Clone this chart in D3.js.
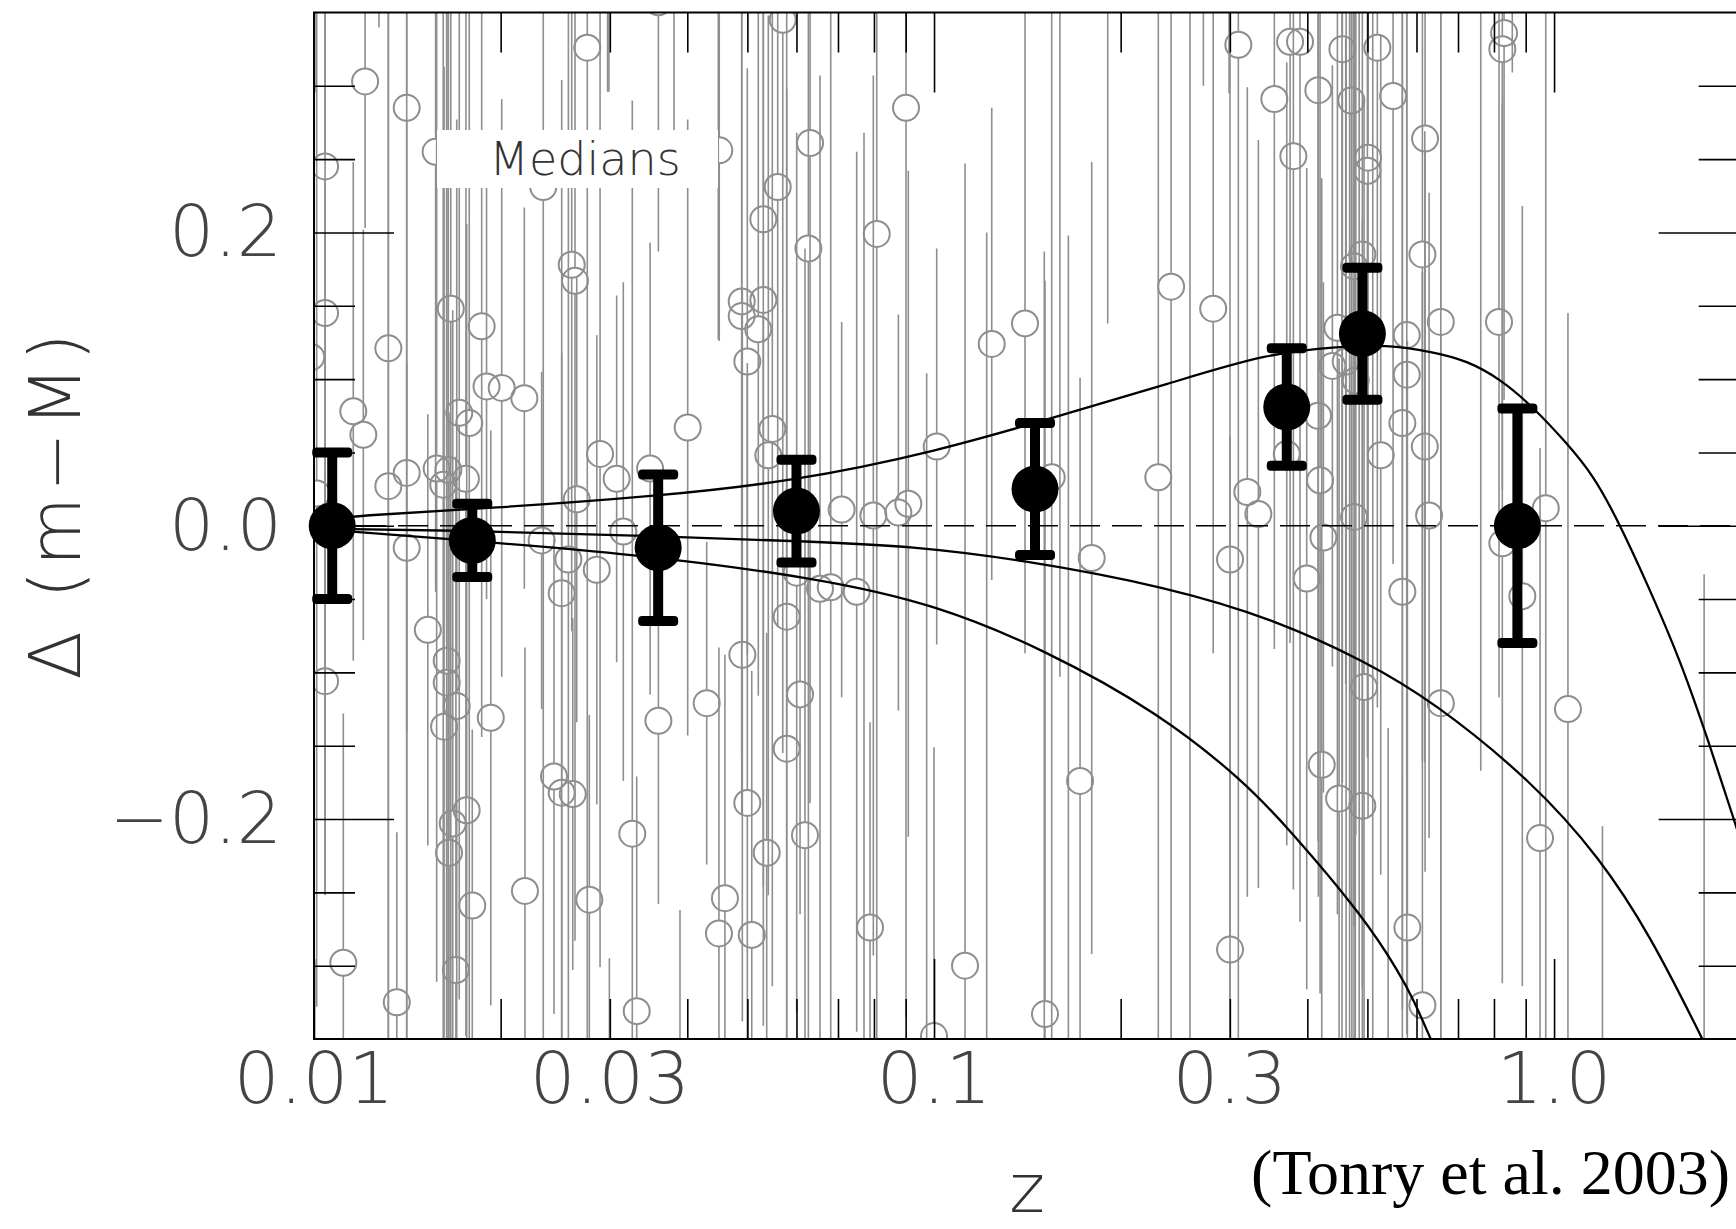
<!DOCTYPE html>
<html><head><meta charset="utf-8">
<script src="https://cdn.jsdelivr.net/npm/d3@7"></script>
<style>
html,body{margin:0;padding:0;background:#fff;}
svg{display:block;}
</style></head><body>
<svg id="c" width="1736" height="1229"></svg>
<script>
// ---------- individual supernovae (z, Delta(m-M), error) ----------
const snZ = [0.01042,0.01209,0.01411,0.02759,0.03593,0.05702,0.0631,0.05596,0.05305,0.06271,0.02604,0.02636,0.01662,0.01864,0.01318,0.04896,0.05305,0.04896,0.05207,0.04999,0.01898,0.02008,0.02184,0.01157,0.01201,0.01715,0.0178,0.04006,0.05485,0.02893,0.05404,0.01411,0.01318,0.01577,0.01647,0.01616,0.01758,0.03077,0.03484,0.02653,0.02343,0.01571,0.04504,0.01042,0.0099,0.0101,
0.01411,0.02329,0.02572,0.02858,0.02509,0.03154,0.01526,0.01637,0.01637,0.01699,0.01621,0.01928,0.01042,0.04907,0.04299,0.03593,0.05786,0.0608,0.05786,0.06005,0.06548,0.02438,0.02509,0.02614,0.01763,0.01674,0.01651,0.03261,0.04999,0.06193,0.05372,0.02189,0.0278,0.018,0.046,0.04499,0.05082,0.01115,0.01694,0.0136,0.03315,
0.09012,0.08084,0.1239,0.1402,0.2412,0.282,0.3096,0.3752,0.3893,0.3539,0.4167,0.3798,0.101,0.1548,0.230,0.3201,0.3335,0.4163,0.3706,0.4194,0.07096,0.07982,0.09089,0.0876,
0.06814,0.07503,0.1796,0.3002,0.3991,0.4246,0.172,0.422,0.4501,0.07885,0.3002,0.151,0.1,
0.4556,0.5188,0.8306,0.8252,0.471,0.550,0.6194,0.5012,0.500,0.4907,0.4758,0.6133,0.4473,0.5787,0.6567,0.8152,0.439,0.4613,0.4788,0.5787,0.5693,0.5254,0.6188,0.4758,0.6287,0.9696,
0.5693,0.8252,0.8888,0.4938,0.6567,1.053,0.4907,0.9493,0.580,0.6133,
0.01273,0.02975,0.0299,0.03807,0.02995,0.03893,0.04488,0.1906,0.2991,0.1506,0.1596,0.7617,0.8564,1.197,1.746,0.540,0.455,0.462,0.468,0.472,0.478,0.485,0.510,0.0771,0.0973,0.1122,0.1216,0.1647,0.2587,0.2719];
const snD = [0.245,0.303,0.285,0.326,0.357,0.345,0.261,0.231,0.209,0.189,0.178,0.167,0.148,0.136,0.121,0.153,0.154,0.143,0.134,0.112,0.095,0.094,0.087,0.078,0.062,0.077,0.070,0.067,0.066,0.049,0.048,0.036,0.027,0.039,0.038,0.028,0.032,0.032,0.039,0.018,0.231,0.255,0.256,0.145,0.115,0.022,
-0.015,-0.010,-0.023,-0.030,-0.046,-0.004,-0.071,-0.092,-0.107,-0.123,-0.137,-0.131,-0.106,-0.088,-0.121,-0.133,-0.062,-0.115,-0.152,-0.032,-0.043,-0.171,-0.182,-0.183,-0.194,-0.203,-0.223,-0.210,-0.189,-0.211,-0.223,-0.249,-0.255,-0.259,-0.254,-0.278,-0.279,-0.298,-0.303,-0.325,-0.331,
0.285,0.199,0.124,0.138,0.163,0.148,0.328,0.330,0.330,0.291,0.297,0.252,0.054,0.033,0.033,0.023,0.008,0.075,0.049,0.031,0.011,0.007,0.015,0.009,
-0.042,-0.045,-0.022,-0.023,-0.036,-0.008,-0.174,-0.163,-0.186,-0.274,-0.289,-0.333,-0.348,
0.325,0.326,0.336,0.325,0.290,0.293,0.264,0.251,0.242,0.185,0.177,0.185,0.135,0.130,0.139,0.139,0.109,0.112,0.099,0.103,0.070,0.048,0.054,0.006,0.007,0.012,
-0.045,-0.012,-0.048,-0.110,-0.121,-0.125,-0.191,-0.213,-0.274,-0.327,
0.60,0.55,0.56,0.60,-0.50,-0.55,0.50,0.55,0.60,-0.50,0.45,0.45,0.60,-0.50,-0.50,-0.45,0.50,-0.50,0.60,-0.60,0.45,-0.45,0.50,-0.40,-0.45,-0.30,-0.42,-0.40,0.50,0.60];
const snE = [0.496,0.10,0.65,0.68,0.17,0.50,0.45,0.30,0.55,0.55,0.25,0.45,0.50,0.28,0.50,0.35,0.40,0.30,0.25,0.20,0.145,0.197,0.13,0.17,0.14,0.40,0.45,0.21,0.38,0.35,0.30,0.40,0.45,0.35,0.40,0.50,0.38,0.125,0.154,0.152,0.60,0.30,0.13,0.30,0.30,0.35,
0.126,0.115,0.40,0.16,0.35,0.17,0.147,0.45,0.50,0.40,0.45,0.196,0.146,0.25,0.11,0.125,0.50,0.15,0.45,0.30,0.35,0.162,0.30,0.12,0.40,0.35,0.30,0.50,0.30,0.40,0.15,0.166,0.126,0.12,0.166,0.195,0.18,0.17,0.35,0.116,0.16,
0.62,0.60,0.161,0.225,0.55,0.235,0.70,0.41,0.60,0.375,0.55,0.50,0.135,0.45,0.45,0.276,0.255,0.29,0.267,0.35,0.128,0.30,0.227,0.135,
0.50,0.30,0.27,0.50,0.28,0.174,0.275,0.40,0.30,0.14,0.35,0.50,0.197,
0.50,0.45,0.25,0.30,0.55,0.319,0.50,0.45,0.40,0.50,0.45,0.346,0.40,0.30,0.55,0.256,0.205,0.22,0.31,0.45,0.40,0.286,0.215,0.50,0.22,0.40,
0.50,0.30,0.266,0.40,0.50,0.27,0.40,0.266,0.40,0.50,
0.26,0.254,0.264,0.35,0.205,0.288,0.373,0.412,0.305,0.687,0.553,0.617,0.291,0.295,0.467,0.312,0.90,0.90,1.00,1.00,0.85,0.85,0.90,0.668,0.554,0.547,0.62,0.598,0.90,0.30];

// ---------- medians ----------
const medZ = [0.0107,0.0180,0.0359,0.0600,0.1455,0.3706,0.4908,0.8727];
const medD = [0.000,-0.010,-0.015,0.010,0.025,0.081,0.131,0.000];
const medE = [0.050,0.025,0.050,0.035,0.045,0.040,0.045,0.080];

// ---------- model curves ----------
const upperZ = [0.01,0.01157,0.01946,0.03548,0.05895,0.1010,0.1577,0.2403,0.344,0.4529,0.534,0.638,0.723,0.818,0.925,1.048,1.156,1.262,1.414,1.603,1.772,1.966,2.0];
const upperD = [0.003,0.007,0.012,0.020,0.030,0.0505,0.0744,0.0971,0.1176,0.1221,0.1235,0.1186,0.1126,0.1003,0.081,0.0564,0.0346,0.0053,-0.0396,-0.0930,-0.1462,-0.2048,-0.215];
const middleZ = [0.01,0.01637,0.03273,0.066,0.0915,0.136,0.2403,0.357,0.4939,0.638,0.925,1.187,1.428,1.72,1.785];
const middleD = [-0.002,-0.003,-0.0065,-0.011,-0.014,-0.0225,-0.042,-0.0645,-0.092,-0.1196,-0.1748,-0.2267,-0.279,-0.3467,-0.361];
const lowerZ = [0.01,0.01637,0.03273,0.066,0.101,0.1501,0.2315,0.3155,0.3716,0.4939,0.5645,0.5946,0.6326,0.64];
const lowerD = [-0.002,-0.009,-0.019,-0.036,-0.054,-0.084,-0.128,-0.174,-0.2055,-0.267,-0.3057,-0.324,-0.350,-0.355];

// ---------- axes ----------
const xTickVals = [0.01,0.03,0.1,0.3,1.0];
const xTickLabels = ["0.01","0.03","0.1","0.3","1.0"];
const yTickVals = [0.2,0.0,-0.2];
const yTickLabels = ["0.2","0.0","\u22120.2"];
const xMajor = [0.01,0.1,1];
const xMinor = [0.02,0.03,0.04,0.05,0.06,0.07,0.08,0.09,0.2,0.3,0.4,0.5,0.6,0.7,0.8,0.9,2];
const yMajor = [-0.2,0,0.2];
const yMinor = [-0.3,-0.25,-0.15,-0.1,-0.05,0.05,0.1,0.15,0.25,0.3];

const xLabel = "z";
const yLabel = "\u0394 (m\u2212M)";
const legendText = "Medians";
const sourceText = "(Tonry et al. 2003)";

// ---------- layout ----------
const L = 314, R = 1740.7, T = 12.5, B = 1039;
const x = d3.scaleLog().domain([0.01, 2]).range([L, R]);
const y = d3.scaleLinear().domain([-0.35, 0.35]).range([B, T]);
const svg = d3.select("#c");
svg.append("rect").attr("width",1736).attr("height",1229).attr("fill","#fff");

svg.append("clipPath").attr("id","plot").append("rect")
  .attr("x",L).attr("y",T).attr("width",R-L).attr("height",B-T);

const gray = "#8e8e8e";
const rC = 13;
const pts = snZ.map((z,i)=>({z, d:snD[i], e:snE[i]}));
const g = svg.append("g").attr("clip-path","url(#plot)");

// error bars (split around the open circle)
const gb = g.append("g").attr("stroke",gray).attr("stroke-width",1.6).attr("fill","none");
pts.forEach(p=>{
  const cx = x(p.z), cy = y(p.d), top = y(p.d+p.e), bot = y(p.d-p.e);
  if (top < cy - rC) gb.append("line").attr("x1",cx).attr("x2",cx).attr("y1",top).attr("y2",cy-rC);
  if (bot > cy + rC) gb.append("line").attr("x1",cx).attr("x2",cx).attr("y1",cy+rC).attr("y2",bot);
});
g.append("g").selectAll("circle").data(pts).join("circle")
  .attr("cx",p=>x(p.z)).attr("cy",p=>y(p.d)).attr("r",rC)
  .attr("fill","none").attr("stroke",gray).attr("stroke-width",2);

// legend box "Medians"
svg.append("rect").attr("x",437).attr("y",130).attr("width",281).attr("height",58).attr("fill","#fff");
svg.append("text").attr("x",585).attr("y",175).attr("text-anchor","middle")
  .attr("font-family","'DejaVu Sans', sans-serif").attr("font-weight",200)
  .attr("font-size",46).attr("fill","#333").text(legendText);

// dashed zero line
g.append("line").attr("x1",L).attr("x2",R).attr("y1",y(0)).attr("y2",y(0))
  .attr("stroke","#000").attr("stroke-width",1.6).attr("stroke-dasharray","30,12");

// model curves
const line = d3.line().x(d=>x(d[0])).y(d=>y(d[1])).curve(d3.curveBasis);
[[upperZ,upperD],[middleZ,middleD],[lowerZ,lowerD]].forEach(([zs,ds])=>{
  g.append("path").attr("d", line(zs.map((z,i)=>[z,ds[i]])))
    .attr("fill","none").attr("stroke","#000").attr("stroke-width",2.3);
});

// medians
const meds = medZ.map((z,i)=>({z,d:medD[i],e:medE[i]}));
const gm = svg.append("g");
meds.forEach(m=>{
  const cx = x(m.z);
  gm.append("line").attr("x1",cx).attr("x2",cx).attr("y1",y(m.d+m.e)).attr("y2",y(m.d-m.e))
    .attr("stroke","#000").attr("stroke-width",10);
  [m.d+m.e, m.d-m.e].forEach(v=>{
    gm.append("rect").attr("x",cx-20).attr("y",y(v)-5).attr("width",40).attr("height",10)
      .attr("rx",4).attr("fill","#000");
  });
  gm.append("circle").attr("cx",cx).attr("cy",y(m.d)).attr("r",23.5).attr("fill","#000");
});

// frame
svg.append("rect").attr("x",L).attr("y",T).attr("width",R-L).attr("height",B-T)
  .attr("fill","none").attr("stroke","#000").attr("stroke-width",2);

// ticks via d3 axes (inward)
function tickAxis(axisGen, vals, len, transform){
  const a = svg.append("g").attr("transform",transform)
    .call(axisGen.tickValues(vals).tickSizeInner(-len).tickSizeOuter(0).tickFormat(""));
  a.select(".domain").remove();
  a.selectAll("line").attr("stroke","#000").attr("stroke-width",1.6);
}
tickAxis(d3.axisBottom(x), xMajor, 80, `translate(0,${B})`);
tickAxis(d3.axisBottom(x), xMinor, 40, `translate(0,${B})`);
tickAxis(d3.axisTop(x), xMajor, 80, `translate(0,${T})`);
tickAxis(d3.axisTop(x), xMinor, 40, `translate(0,${T})`);
tickAxis(d3.axisLeft(y), yMajor, 80, `translate(${L},0)`);
tickAxis(d3.axisLeft(y), yMinor, 41, `translate(${L},0)`);
tickAxis(d3.axisRight(y), yMajor, 82, `translate(${R},0)`);
tickAxis(d3.axisRight(y), yMinor, 42, `translate(${R},0)`);

// tick labels
const lblFont = "'DejaVu Sans', sans-serif";
svg.append("g").selectAll("text").data(xTickVals).join("text")
  .attr("x",v=>x(v)).attr("y",1103).attr("text-anchor","middle")
  .attr("font-family",lblFont).attr("font-weight",200).attr("font-size",72).attr("fill","#444")
  .text((v,i)=>xTickLabels[i]);
svg.append("g").selectAll("text").data(yTickVals).join("text")
  .attr("x",282).attr("y",v=>y(v)+24).attr("text-anchor","end")
  .attr("font-family",lblFont).attr("font-weight",200).attr("font-size",71).attr("fill","#444")
  .text((v,i)=>yTickLabels[i]);

// axis titles
svg.append("text").attr("x",1027).attr("y",1212).attr("text-anchor","middle")
  .attr("font-family",lblFont).attr("font-weight",200).attr("font-size",68).attr("fill","#333").text(xLabel);
svg.append("text").attr("transform","translate(80,504) rotate(-90)").attr("text-anchor","middle")
  .attr("font-family",lblFont).attr("font-weight",200).attr("font-size",71).attr("letter-spacing",5)
  .attr("fill","#333").text(yLabel);

// source
svg.append("text").attr("x",1730).attr("y",1194).attr("text-anchor","end")
  .attr("font-family","'Liberation Serif','Times New Roman',serif").attr("font-size",64)
  .attr("fill","#000").text(sourceText);
</script>
</body></html>
